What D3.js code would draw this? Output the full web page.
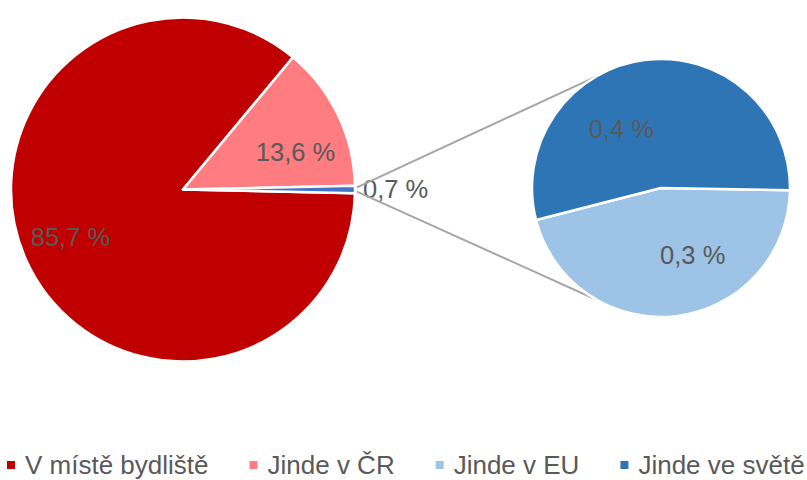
<!DOCTYPE html>
<html>
<head>
<meta charset="utf-8">
<script src="https://cdn.jsdelivr.net/npm/d3@7.9.0/dist/d3.min.js"></script>
<style>
  html, body { margin: 0; padding: 0; background: #fff; }
  svg { display: block; font-family: "Liberation Sans", Arial, sans-serif; }
</style>
</head>
<body>
<svg id="chart" width="807" height="480"></svg>
<script>
// main pie: the last slice is the "other" group that is split in the second pie
const mainLabels = ["V místě bydliště", "Jinde v ČR", "Ostatní"];
const mainValues = [85.7, 13.6, 0.7];
// second pie
const subLabels = ["Jinde v EU", "Jinde ve světě"];
const subValues = [0.32, 0.38];

const legendLabels = ["V místě bydliště", "Jinde v ČR", "Jinde v EU", "Jinde ve světě"];
const colors = {
  "V místě bydliště": "#C00000",
  "Jinde v ČR": "#FF7C80",
  "Ostatní": "#4472C4",
  "Jinde v EU": "#9DC3E6",
  "Jinde ve světě": "#2E75B6"
};

const svg = d3.select("#chart");
const fmt = v => d3.format(".1f")(v).replace(".", ",") + " %";
const textColor = "#595959";
const fontSize = 25.5;

// ----- main pie -----
const mainC = { x: 183, y: 189.5 }, mainR = 172;
const otherFrac = mainValues[2] / d3.sum(mainValues);
const mainStart = Math.PI / 2 + otherFrac * Math.PI; // "other" centred at 3 o'clock
const mainPie = d3.pie().sort(null).value(d => d.value)
  .startAngle(mainStart).endAngle(mainStart + 2 * Math.PI);
const mainArcs = mainPie(mainLabels.map((name, i) => ({ name, value: mainValues[i] })));

const gMain = svg.append("g").attr("transform", `translate(${mainC.x},${mainC.y})`);
const arcMain = d3.arc().innerRadius(0).outerRadius(mainR);
gMain.selectAll("path").data(mainArcs).enter().append("path")
  .attr("d", arcMain)
  .attr("fill", d => colors[d.data.name])
  .attr("stroke", "#fff").attr("stroke-width", 2.5).attr("stroke-linejoin", "round");

// ----- second pie -----
const subC = { x: 661, y: 188 }, subR = 129;
const subStart = Math.PI / 2 + 0.018;
const subPie = d3.pie().sort(null).value(d => d.value)
  .startAngle(subStart).endAngle(subStart + 2 * Math.PI);
const subArcs = subPie(subLabels.map((name, i) => ({ name, value: subValues[i] })));

// connector lines (from the "other" slice corners to the second pie)
const other = mainArcs[2];
const pt = (c, r, a) => [c.x + r * Math.sin(a), c.y - r * Math.cos(a)];
const lines = [
  [pt(mainC, mainR + 2, other.startAngle + 0.01), pt(subC, subR, Math.PI * 11 / 6)],
  [pt(mainC, mainR + 2, other.endAngle - 0.01), pt(subC, subR, Math.PI * 7 / 6)]
];
svg.append("g").selectAll("line").data(lines).enter().append("line")
  .attr("x1", d => d[0][0]).attr("y1", d => d[0][1])
  .attr("x2", d => d[1][0]).attr("y2", d => d[1][1])
  .attr("stroke", "#A6A6A6").attr("stroke-width", 2);

const gSub = svg.append("g").attr("transform", `translate(${subC.x},${subC.y})`);
const arcSub = d3.arc().innerRadius(0).outerRadius(subR);
gSub.selectAll("path").data(subArcs).enter().append("path")
  .attr("d", arcSub)
  .attr("fill", d => colors[d.data.name])
  .attr("stroke", "#fff").attr("stroke-width", 2.5).attr("stroke-linejoin", "round");

// ----- data labels -----
const mainLabelArc = d3.arc().innerRadius(mainR * 0.7).outerRadius(mainR * 0.7);
const mainNudge = [[-3, -2], [4, 15]];
gMain.selectAll("text.lbl").data(mainArcs.slice(0, 2)).enter().append("text")
  .attr("class", "lbl")
  .attr("transform", (d, i) => {
    const [x, y] = mainLabelArc.centroid(d);
    return `translate(${x + mainNudge[i][0]},${y + mainNudge[i][1]})`;
  })
  .attr("text-anchor", "middle").attr("dy", "0.35em")
  .attr("font-size", fontSize).attr("fill", textColor)
  .text(d => fmt(d.data.value));

// label of the "other" slice, outside the pie
{
  const a = (other.startAngle + other.endAngle) / 2;
  const [x, y] = pt({ x: 0, y: 0 }, mainR + 8, a);
  gMain.append("text")
    .attr("x", x).attr("y", y).attr("dy", "0.35em")
    .attr("font-size", fontSize).attr("fill", textColor)
    .text(fmt(other.data.value));
}

const subLabelArc = d3.arc().innerRadius(subR * 0.58).outerRadius(subR * 0.58);
const subNudge = [[23, -7], [-31, 15]];
gSub.selectAll("text.lbl").data(subArcs).enter().append("text")
  .attr("class", "lbl")
  .attr("transform", (d, i) => {
    const [x, y] = subLabelArc.centroid(d);
    return `translate(${x + subNudge[i][0]},${y + subNudge[i][1]})`;
  })
  .attr("text-anchor", "middle").attr("dy", "0.35em")
  .attr("font-size", fontSize).attr("fill", textColor)
  .text(d => fmt(d.data.value));

// ----- legend -----
const legend = svg.append("g").attr("transform", "translate(7,474)");
let lx = 0;
legendLabels.forEach(name => {
  const item = legend.append("g").attr("transform", `translate(${lx},0)`);
  item.append("rect").attr("x", 0).attr("y", -13).attr("width", 8).attr("height", 8)
    .attr("fill", colors[name]);
  const t = item.append("text").attr("x", 18).attr("y", 0)
    .attr("font-size", 26).attr("fill", textColor).text(name);
  lx += 18 + t.node().getComputedTextLength() + 41;
});
</script>
</body>
</html>
